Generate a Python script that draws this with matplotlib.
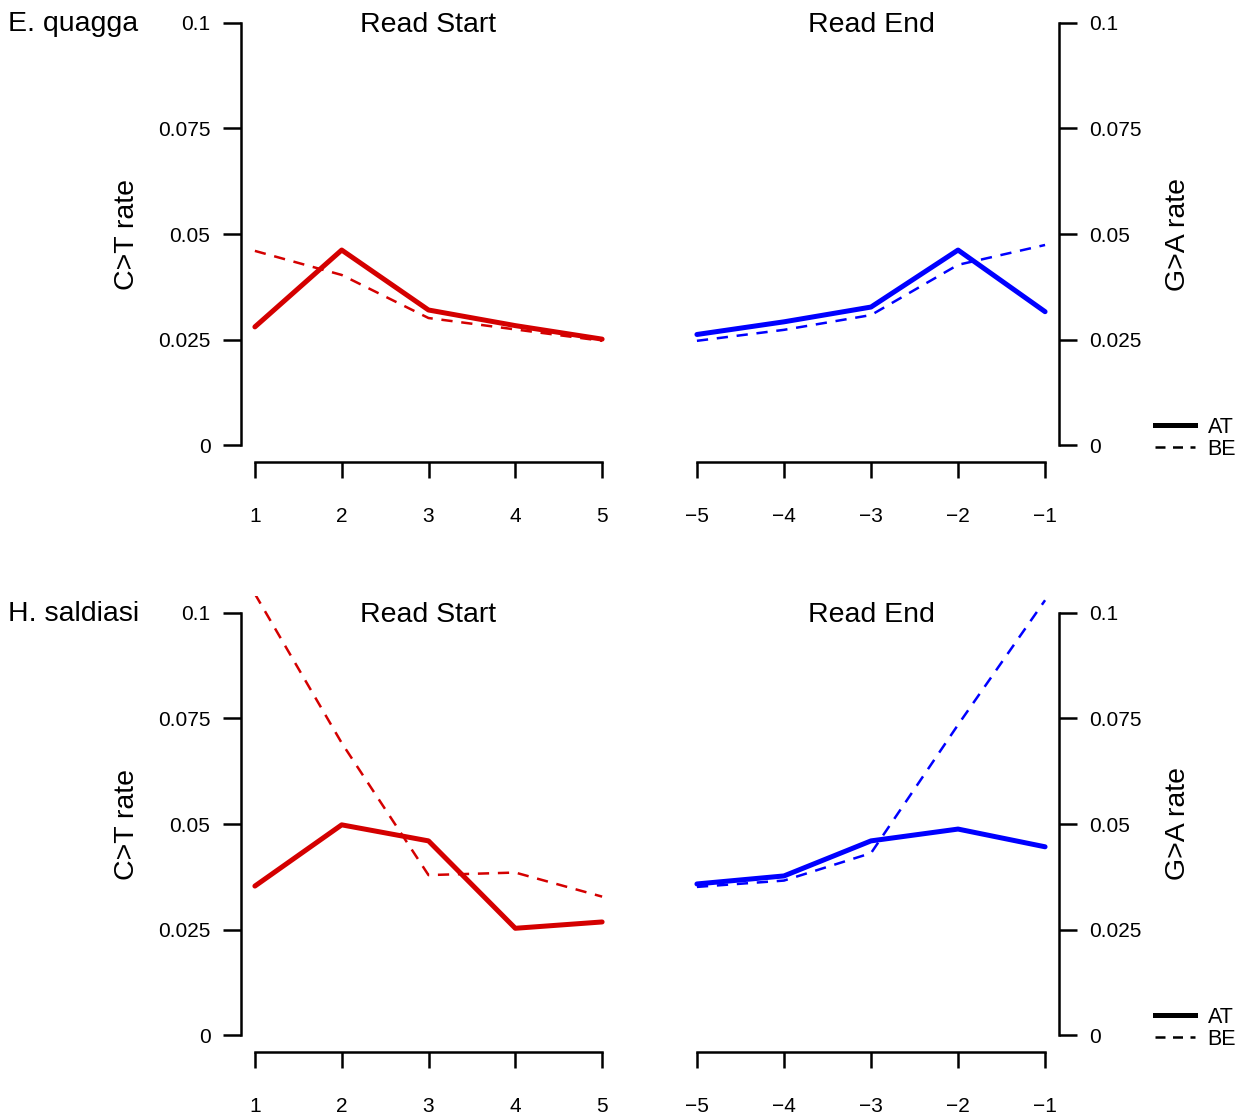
import matplotlib
matplotlib.use('Agg')
import matplotlib.pyplot as plt
from matplotlib.lines import Line2D

plt.rcParams['font.family'] = ['Liberation Sans', 'DejaVu Sans']

# positions along the read
start_pos = [1, 2, 3, 4, 5]
end_pos = [-5, -4, -3, -2, -1]

species = ['E. quagga', 'H. saldiasi']

# C>T at read start (AT solid, BE dashed)
ct_at = [[0.0280, 0.0462, 0.0320, 0.0283, 0.0251],
         [0.0353, 0.0498, 0.0460, 0.0253, 0.0268]]
ct_be = [[0.0460, 0.0403, 0.0301, 0.0274, 0.0247],
         [0.1045, 0.0692, 0.0379, 0.0385, 0.0328]]
# G>A at read end
ga_at = [[0.0262, 0.0292, 0.0327, 0.0462, 0.0316],
         [0.0358, 0.0377, 0.0460, 0.0488, 0.0446]]
ga_be = [[0.0247, 0.0273, 0.0308, 0.0427, 0.0474],
         [0.0351, 0.0366, 0.0431, 0.0735, 0.1030]]

yticks = [0, 0.025, 0.05, 0.075, 0.1]
ytick_labels = ['0', '0.025', '0.05', '0.075', '0.1']

red = '#d40000'
blue = '#0000ff'

W, H = 1242, 1115
fig = plt.figure(figsize=(W / 100, H / 100), dpi=100)


def px_box(l, r, t, b):
    return [l / W, 1 - b / H, (r - l) / W, (b - t) / H]


def style(ax, xs, side):
    for s in ax.spines.values():
        s.set_visible(False)
    ax.spines[side].set_visible(True)
    ax.spines[side].set_bounds(0, 0.1)
    ax.spines['bottom'].set_visible(True)
    ax.spines['bottom'].set_bounds(xs[0], xs[-1])
    for s in (side, 'bottom'):
        ax.spines[s].set_linewidth(1.8)
    ax.set_xlim(xs[0] - 0.16, xs[-1] + 0.16)
    ax.set_ylim(-0.004, 0.104)
    ax.set_xticks(xs)
    ax.set_xticklabels([str(x).replace('-', '\u2212') for x in xs])
    ax.set_yticks(yticks)
    ax.set_yticklabels(ytick_labels)
    ax.tick_params(axis='x', direction='out', length=11.5, width=1.8,
                   pad=21, labelsize=15)
    ax.tick_params(axis='y', direction='out', length=13, width=1.8,
                   pad=9, labelsize=15)
    if side == 'right':
        ax.yaxis.tick_right()
    ax.patch.set_alpha(0)


rows = [(6, 462), (596, 1052)]
for i, (top, bot) in enumerate(rows):
    axl = fig.add_axes(px_box(241, 616, top, bot))
    axr = fig.add_axes(px_box(683, 1059, top, bot))

    axl.plot(start_pos, ct_at[i], color=red, lw=3.6, solid_joinstyle='round',
             solid_capstyle='round')
    axl.plot(start_pos, ct_be[i], color=red, lw=1.8, dashes=(4.5, 3.5))
    axr.plot(end_pos, ga_at[i], color=blue, lw=3.6, solid_joinstyle='round',
             solid_capstyle='round')
    axr.plot(end_pos, ga_be[i], color=blue, lw=1.8, dashes=(4.5, 3.5))

    style(axl, start_pos, 'left')
    style(axr, end_pos, 'right')

    axl.text(3, 0.0995, 'Read Start', ha='center', va='center', fontsize=20.5)
    axr.text(-3, 0.0995, 'Read End', ha='center', va='center', fontsize=20.5)

    axl.set_ylabel('C>T rate', fontsize=20.5)
    axl.yaxis.set_label_coords(-0.27, 0.5)
    axr.set_ylabel('G>A rate', fontsize=20.5)
    axr.yaxis.set_label_position('right')
    axr.yaxis.set_label_coords(1.282, 0.5)

    fig.text(8 / W, 1 - (top + 18) / H, species[i], fontsize=20.5,
             ha='left', va='center')

    handles = [Line2D([], [], color='black', lw=3.6),
               Line2D([], [], color='black', lw=1.8, dashes=(4, 3))]
    fig.legend(handles, ['AT', 'BE'], loc='lower left',
               bbox_to_anchor=(1155 / W, 1 - (bot - 2) / H), frameon=False,
               fontsize=15.5, handlelength=1.85, handletextpad=0.6,
               labelspacing=0.05, borderpad=0, borderaxespad=0)

fig.savefig('out.png', dpi=100)
